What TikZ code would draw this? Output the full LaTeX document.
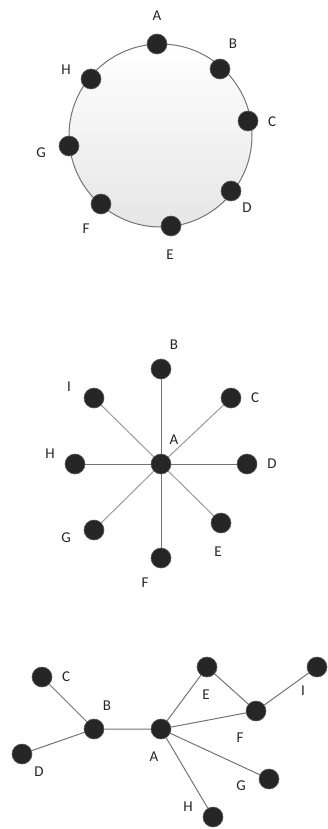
\documentclass[tikz,border=0pt]{standalone}
\usepackage{fontspec}
\setmainfont{Carlito}
\usetikzlibrary{backgrounds}
\begin{document}
\begin{tikzpicture}[x=1pt,y=-1pt,
  dot/.style={circle,fill=black!85,draw=black!65,line width=0.6pt,minimum size=20pt,inner sep=0pt},
  lbl/.style={font=\fontsize{15}{15}\selectfont,text=black!85,inner sep=0pt},
  edge/.style={draw=black!55,line width=1pt},
  edgel/.style={draw=black!40,line width=1pt}]
\useasboundingbox (0,0) rectangle (328,829);
% ---- ring ----
\node[circle,draw=black!55,line width=1pt,minimum size=183pt,inner sep=0pt,
  top color=white,bottom color=black!10] (ring) at (160.5,135.5) {};
\node[dot] (rA) at (157,44) {};
\node[dot] (rB) at (220,69) {};
\node[dot] (rC) at (248,121) {};
\node[dot] (rD) at (231,191) {};
\node[dot] (rE) at (171,226) {};
\node[dot] (rF) at (101,204) {};
\node[dot] (rG) at (69,146) {};
\node[dot] (rH) at (91,79) {};
\node[lbl] (lrA) at (157,16) {A};
\node[lbl] (lrB) at (233,44) {B};
\node[lbl] (lrC) at (272,122) {C};
\node[lbl] (lrD) at (247,208) {D};
\node[lbl] (lrE) at (170,255) {E};
\node[lbl] (lrF) at (86,229) {F};
\node[lbl] (lrG) at (41,153) {G};
\node[lbl] (lrH) at (66,70) {H};
% ---- star ----
\node[dot] (sA) at (161,464) {};
\node[dot] (sB) at (161,369) {};
\node[dot] (sC) at (231,398) {};
\node[dot] (sD) at (247,464) {};
\node[dot] (sE) at (221,523) {};
\node[dot] (sF) at (161,558) {};
\node[dot] (sG) at (94,530) {};
\node[dot] (sH) at (75,464) {};
\node[dot] (sI) at (94,398) {};
\begin{pgfonlayer}{background}
\draw[edgel] (sA) -- (sC) (sA) -- (sE) (sA) -- (sG) (sA) -- (sI);
\draw[edge] (sA) -- (sB) (sA) -- (sD) (sA) -- (sF) (sA) -- (sH);
\end{pgfonlayer}
\node[lbl] (lsA) at (174,440) {A};
\node[lbl] (lsB) at (174,345) {B};
\node[lbl] (lsC) at (255,398) {C};
\node[lbl] (lsD) at (272,464) {D};
\node[lbl] (lsE) at (218,552) {E};
\node[lbl] (lsF) at (145,583) {F};
\node[lbl] (lsG) at (66,538) {G};
\node[lbl] (lsH) at (50,454) {H};
\node[lbl] (lsI) at (69,387) {I};
% ---- tree ----
\node[dot] (tA) at (161,729) {};
\node[dot] (tB) at (94,729) {};
\node[dot] (tC) at (42,677) {};
\node[dot] (tD) at (22,754) {};
\node[dot] (tE) at (207,667) {};
\node[dot] (tF) at (256,711) {};
\node[dot] (tG) at (269,779) {};
\node[dot] (tH) at (213,817) {};
\node[dot] (tI) at (317,667) {};
\draw[edge] (tB) -- (tC) (tB) -- (tD) (tB) -- (tA) (tA) -- (tE) (tA) -- (tF)
  (tA) -- (tG) (tA) -- (tH) (tE) -- (tF) (tF) -- (tI);
\node[lbl] (ltA) at (154,757) {A};
\node[lbl] (ltB) at (107,706) {B};
\node[lbl] (ltC) at (66,677) {C};
\node[lbl] (ltD) at (39,772) {D};
\node[lbl] (ltE) at (206,695) {E};
\node[lbl] (ltF) at (240,738) {F};
\node[lbl] (ltG) at (241,786) {G};
\node[lbl] (ltH) at (188,807) {H};
\node[lbl] (ltI) at (303,691) {I};
\end{tikzpicture}
\end{document}
